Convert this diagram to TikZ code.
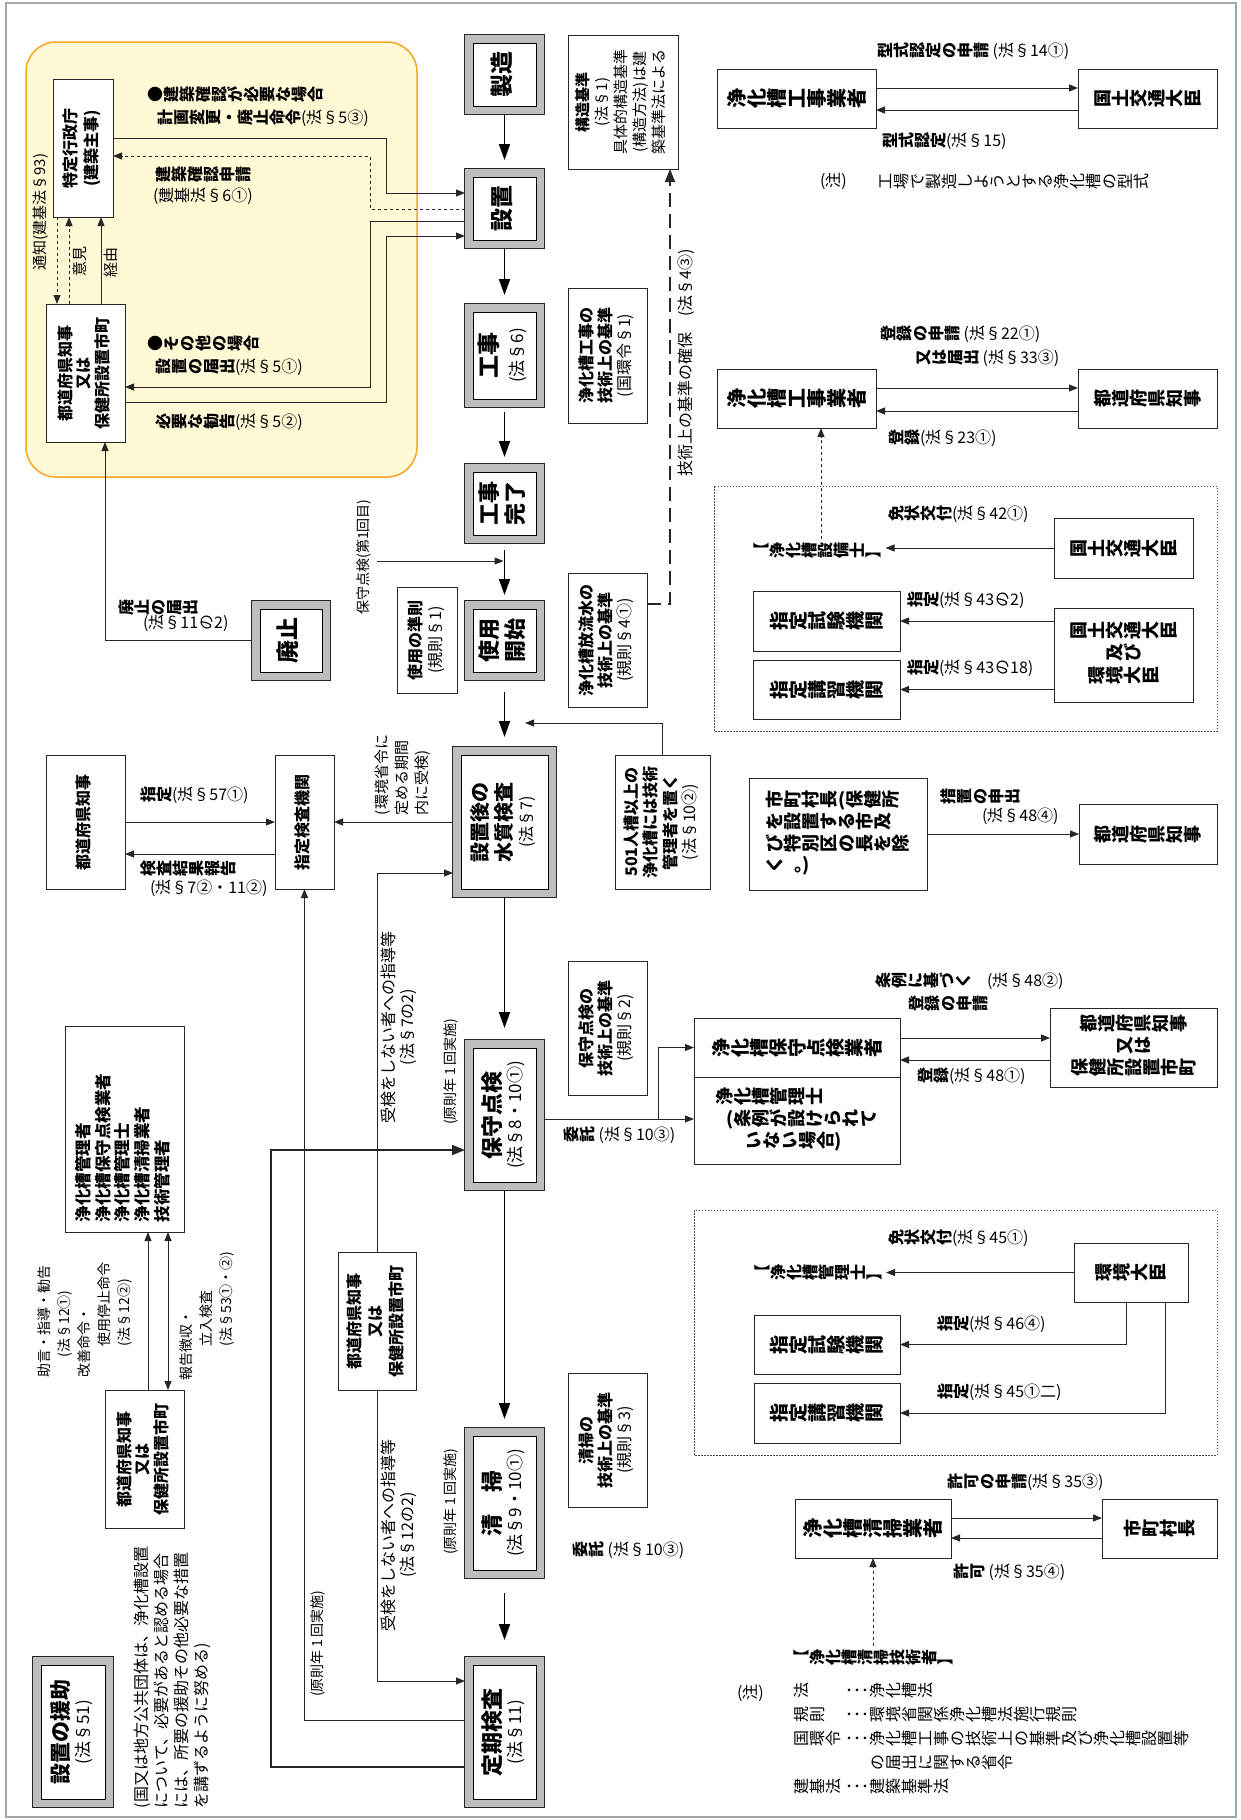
\documentclass[tikz,border=0pt]{standalone}
\usepackage{fontspec}
\usepackage{graphicx}
\usepackage{xcolor}
\setmainfont{Noto Sans CJK JP}
\usetikzlibrary{positioning,arrows.meta,calc}

\definecolor{orangeline}{HTML}{F5A623}
\definecolor{cream}{HTML}{FFF9D6}
\definecolor{stagegray}{HTML}{BEBEBE}

\makeatletter
% CJK glyphs turned a quarter left in a full square, the rest kept upright
\newcommand\tate[1]{\@tfor\tate@c:=#1\do{%
  \ifnum\expandafter`\tate@c>"2FFF\relax
    \rotatebox[origin=c]{90}{\makebox[1em]{\rule[-0.12em]{0pt}{1em}\tate@c}}%
  \else\tate@c\fi}}
\makeatother
\newcommand\yk[2][c]{\rotatebox{90}{\begin{tabular}{@{}#1@{}}#2\end{tabular}}}
\newcommand\tlines[2][c]{\begin{tabular}{@{}#1@{}}#2\end{tabular}}
\newcommand\fsz[2]{\fontsize{#1}{#2}\selectfont}
\newcommand\light[1]{{\mdseries #1}}

\begin{document}
\begin{tikzpicture}[
    x=1pt, y=-1pt,
    every node/.style={inner sep=0pt, outer sep=0pt},
    wh/.style 2 args={minimum width=#1pt, minimum height=#2pt},
    plainbox/.style={draw=black!85, line width=0.9pt, fill=white, font=\fsz{16}{19}\bfseries},
    stage/.style={draw=black, line width=0.9pt, fill=white,
        preaction={draw=black!85, line width=17.8pt},
        preaction={draw=stagegray, line width=16pt},
        font=\fsz{23}{26}\bfseries},
    lbl/.style={anchor=west, font=\fsz{16}{20}\bfseries},
    note/.style={font=\fsz{15}{19}\mdseries},
    link/.style={draw=black!85, line width=1pt},
    arr/.style={-{Triangle[length=9pt,width=7pt]}},
    flow/.style={draw=black, line width=1.8pt, -{Triangle[length=16pt,width=11pt]}},
    grp/.style={draw=black!70, line width=0.8pt, dash pattern=on 1.5pt off 1.5pt}
  ]
  \useasboundingbox (0,0) rectangle (1240,1820);
  \draw[gray!70, line width=1.2pt] (6,3) rectangle (1236,1817);
  \draw[orangeline, line width=1.5pt, fill=cream, rounded corners=30pt] (26,42) rectangle (417,477);
  \draw[grp] (714,486) rectangle (1217,731);
  \draw[grp] (694,1210) rectangle (1217,1455);

  % main stages
  \node[stage, wh={63}{63}] (seizo) at (504.5,74.5) {\yk{製造}};
  \node[stage, wh={63}{63}] (secchi) at (504.5,208.5) {\yk{設置}};
  \node[stage, wh={63}{87}] (koji) at (504.5,355.5) {\yk{工事\\\light{\fsz{17}{20}(法§6)}}};
  \node[stage, wh={63}{63}, font=\fsz{22}{24}\bfseries] (kanryo) at (504.5,503.5) {\yk{工事\\完了}};
  \node[stage, wh={63}{63}, font=\fsz{22}{24}\bfseries] (kaishi) at (504.5,640.5) {\yk{使用\\開始}};
  \node[stage, wh={87}{134}, font=\fsz{20}{21}\bfseries] (suishitsu) at (504.5,822) {\yk{設置後の\\水質検査\\\light{\fsz{16}{18}(法§7)}}};
  \node[stage, wh={63}{134}, font=\fsz{22}{21}\bfseries] (hoshu) at (504.5,1115) {\yk{保守点検\\\light{\fsz{17}{20}(法§8・10①)}}};
  \node[stage, wh={63}{134}, font=\fsz{22}{21}\bfseries] (seiso) at (504.5,1503) {\yk{清　掃\\\light{\fsz{17}{20}(法§9・10①)}}};
  \node[stage, wh={63}{134}, font=\fsz{22}{21}\bfseries] (teiki) at (504.5,1732) {\yk{定期検査\\\light{\fsz{17}{20}(法§11)}}};
  \node[stage, wh={62}{63}] (haishi) at (291,640.5) {\yk{廃止}};
  \node[stage, wh={64}{134}, font=\fsz{21}{20}\bfseries] (enjo) at (73,1732) {\yk{設置の援助\\\light{\fsz{17}{20}(法§51)}}};

  % boxes, left and middle
  \node[plainbox, wh={60}{138}, font=\fsz{16}{20}\bfseries] (tokutei) at (83,148) {\yk{特定行政庁\\(建築主事)}};
  \node[plainbox, wh={79}{138}, font=\fsz{16}{18}\bfseries] (todofuA) at (85.5,373) {\yk{都道府県知事\\又は\\保健所設置市町}};
  \node[plainbox, wh={110}{134}, font=\fsz{15}{19}\bfseries] (kouzou) at (623,102) {\yk{構造基準\\\light{(法§1)}\\\light{具体的構造基準}\\\light{(構造方法)は建}\\\light{築基準法による}}};
  \node[plainbox, wh={79}{135}] (kojikijun) at (607.5,355.5) {\yk{浄化槽工事の\\技術上の基準\\\light{(国環令§1)}}};
  \node[plainbox, wh={60}{106}, font=\fsz{16}{20}\bfseries] (shiyou) at (427,640) {\yk{使用の準則\\\light{(規則§1)}}};
  \node[plainbox, wh={79}{134}] (houryu) at (607.5,640) {\yk{浄化槽放流水の\\技術上の基準\\\light{(規則§4①)}}};
  \node[plainbox, wh={95}{134}] (kanrisha501) at (662.5,822) {\yk{501人槽以上の\\浄化槽には技術\\管理者を置く\\\light{(法§10②)}}};
  \node[plainbox, wh={59}{134}] (shiteikensa) at (304.5,822) {\yk{指定検査機関}};
  \node[plainbox, wh={79}{134}] (todofuL) at (85.5,822) {\yk{都道府県知事}};
  \node[plainbox, wh={78}{138}, font=\fsz{16}{21}\bfseries] (todofuM) at (377,1321) {\yk{都道府県知事\\又は\\保健所設置市町}};
  \node[plainbox, wh={79}{134}] (hoshukijun) at (607.5,1028) {\yk{保守点検の\\技術上の基準\\\light{(規則§2)}}};
  \node[plainbox, wh={79}{134}] (seisokijun) at (607.5,1440) {\yk{清掃の\\技術上の基準\\\light{(規則§3)}}};
  \node[plainbox, wh={119}{206}] (kanrilist) at (124.5,1129) {};
  \node[anchor=south, font=\fsz{16.5}{18}\bfseries] at ($(kanrilist.south)+(0,-10)$) {\yk[l]{浄化槽管理者\\浄化槽保守点検業者\\浄化槽管理士\\浄化槽清掃業者\\技術管理者}};
  \node[plainbox, wh={79}{138}, font=\fsz{16}{18}\bfseries] (todofuLB) at (144.5,1459) {\yk{都道府県知事\\又は\\保健所設置市町}};

  % boxes, right
  \node[plainbox, wh={159}{59}, font=\fsz{20}{22}\bfseries] (kojigyoA) at (796.5,98.5) {\tate{浄化槽工事業者}};
  \node[plainbox, wh={139}{59}, font=\fsz{18}{21}\bfseries] (kokudoA) at (1147.5,98.5) {\tate{国土交通大臣}};
  \node[plainbox, wh={159}{59}, font=\fsz{20}{22}\bfseries] (kojigyoB) at (796.5,398.5) {\tate{浄化槽工事業者}};
  \node[plainbox, wh={139}{59}, font=\fsz{18}{21}\bfseries] (todofuR1) at (1147.5,398.5) {\tate{都道府県知事}};
  \node[plainbox, wh={139}{60}, font=\fsz{18}{21}\bfseries] (kokudoB) at (1123.5,548) {\tate{国土交通大臣}};
  \node[plainbox, wh={147}{60}, font=\fsz{19}{21}\bfseries] (shikenA) at (826.5,621) {\tate{指定試験機関}};
  \node[plainbox, wh={147}{59}, font=\fsz{19}{21}\bfseries] (koshuA) at (826.5,689.5) {\tate{指定講習機関}};
  \node[plainbox, wh={139}{94}, font=\fsz{18}{21}\bfseries] (kokukan) at (1123.5,655) {\tlines{\tate{国土交通大臣}\\\tate{及び}\\\tate{環境大臣}}};
  \node[plainbox, wh={178}{112}, font=\fsz{18}{20}\bfseries] (shichoson) at (838,834) {\tlines[l]{\tate{市町村長(保健所}\\\tate{を設置する市及}\\\tate{び特別区の長を除}\\\tate{く。)}}};
  \node[plainbox, wh={138}{60}, font=\fsz{18}{21}\bfseries] (todofuR2) at (1148,834) {\tate{都道府県知事}};
  \node[plainbox, wh={206}{59}, font=\fsz{19}{22}\bfseries] (hoshugyo) at (797,1047.5) {\tate{浄化槽保守点検業者}};
  \node[plainbox, wh={206}{87}, font=\fsz{18}{21}\bfseries] (kanrishi) at (797,1120.5) {\tlines[l]{\tate{浄化槽管理士}\\\hspace{0.6em}\tate{(条例が設けられて}\\\hspace{1.6em}\tate{いない場合)}}};
  \node[plainbox, wh={167}{79}, font=\fsz{18}{21}\bfseries] (todofuR3) at (1133.5,1047.5) {\tlines{\tate{都道府県知事}\\\tate{又は}\\\tate{保健所設置市町}}};
  \node[plainbox, wh={114}{59}, font=\fsz{18}{21}\bfseries] (kankyoA) at (1131,1272.5) {\tate{環境大臣}};
  \node[plainbox, wh={146}{59}, font=\fsz{19}{21}\bfseries] (shikenB) at (827,1344.5) {\tate{指定試験機関}};
  \node[plainbox, wh={146}{60}, font=\fsz{19}{21}\bfseries] (koshuB) at (827,1413) {\tate{指定講習機関}};
  \node[plainbox, wh={156}{59}, font=\fsz{20}{22}\bfseries] (seisogyo) at (873,1528.5) {\tate{浄化槽清掃業者}};
  \node[plainbox, wh={115}{59}, font=\fsz{18}{21}\bfseries] (shichosonB) at (1159.5,1528.5) {\tate{市町村長}};

  % labels read across the page
  \node[lbl] at (147,94) {\tate{●建築確認が必要な場合}};
  \node[lbl] at (157,118) {\tate{計画変更・廃止命令}\light{\tate{(法§5③)}}};
  \node[lbl] at (155,174) {\tate{建築確認申請}};
  \node[lbl] at (153,196) {\light{\tate{(建基法§6①)}}};
  \node[lbl] at (147,343) {\tate{●その他の場合}};
  \node[lbl] at (155,367) {\tate{設置の届出}\light{\tate{(法§5①)}}};
  \node[lbl] at (155,422) {\tate{必要な勧告}\light{\tate{(法§5②)}}};
  \node[lbl] at (118,607) {\tate{廃止の届出}};
  \node[lbl] at (143,623) {\light{\tate{(法§11の2)}}};
  \node[lbl] at (140,795) {\tate{指定}\light{\tate{(法§57①)}}};
  \node[lbl] at (140,868) {\tate{検査結果報告}};
  \node[lbl] at (150,888) {\light{\tate{(法§7②・11②)}}};
  \node[lbl] at (877,51) {\tate{型式認定の申請}\ \light{\tate{(法§14①)}}};
  \node[lbl] at (882,141) {\tate{型式認定}\light{\tate{(法§15)}}};
  \node[lbl] at (820,181) {\light{\tate{(注)}}};
  \node[lbl] at (877,181) {\light{\tate{工場で製造しようとする浄化槽の型式}}};
  \node[lbl] at (880,334) {\tate{登録の申請}\ \light{\tate{(法§22①)}}};
  \node[lbl] at (915,358) {\tate{又は届出}\ \light{\tate{(法§33③)}}};
  \node[lbl] at (888,438) {\tate{登録}\light{\tate{(法§23①)}}};
  \node[lbl, anchor=center] (setsubishi) at (817.5,550) {\tate{【浄化槽設備士】}};
  \node[lbl] at (888,514) {\tate{免状交付}\light{\tate{(法§42①)}}};
  \node[lbl] at (907,600) {\tate{指定}\light{\tate{(法§43の2)}}};
  \node[lbl] at (907,668) {\tate{指定}\light{\tate{(法§43の18)}}};
  \node[lbl] at (940,796) {\tate{措置の申出}};
  \node[lbl] at (982,816) {\light{\tate{(法§48④)}}};
  \node[lbl] at (563,1135) {\tate{委託}\ \light{\tate{(法§10③)}}};
  \node[lbl] at (875,981) {\tate{条例に基づく}\quad\light{\tate{(法§48②)}}};
  \node[lbl] at (908,1003) {\tate{登録の申請}};
  \node[lbl] at (917,1076) {\tate{登録}\light{\tate{(法§48①)}}};
  \node[lbl, anchor=center] (kanrishiL) at (818,1272) {\tate{【浄化槽管理士】}};
  \node[lbl] at (888,1238) {\tate{免状交付}\light{\tate{(法§45①)}}};
  \node[lbl] at (937,1324) {\tate{指定}\light{\tate{(法§46④)}}};
  \node[lbl] at (937,1392) {\tate{指定}\light{\tate{(法§45①}二)}};
  \node[lbl] at (947,1482) {\tate{許可の申請}\light{\tate{(法§35③)}}};
  \node[lbl] at (953,1572) {\tate{許可}\ \light{\tate{(法§35④)}}};
  \node[lbl, anchor=center] (seisogijutsu) at (873,1657) {\tate{【浄化槽清掃技術者】}};
  \node[lbl] at (572,1550) {\tate{委託}\ \light{\tate{(法§10③)}}};
  \node[lbl] at (737,1693) {\light{\tate{(注)}}};
  \node[anchor=north west, font=\fsz{16}{24}\mdseries] (legend) at (793,1680) {%
    \begin{tabular}{@{}l@{\hspace{4pt}}l@{}l@{}}
      \tate{法} & ･･･ & \tate{浄化槽法}\\
      \tate{規則} & ･･･ & \tate{環境省関係浄化槽法施行規則}\\
      \tate{国環令} & ･･･ & \tate{浄化槽工事の技術上の基準及び浄化槽設置等}\\
       & & \tate{の届出に関する省令}\\
      \tate{建基法} & ･･･ & \tate{建築基準法}
    \end{tabular}};

  % labels read up the page
  \node[note] at (42,212) {\yk{通知(建基法§93)}};
  \node[note] at (82,261) {\yk{意見}};
  \node[note] at (113,262) {\yk{経由}};
  \node[note, font=\fsz{14}{18}\mdseries] at (365,557) {\yk{保守点検(第1回目)}};
  \node[note, font=\fsz{16}{19}\mdseries] at (688,363) {\yk{技術上の基準の確保\quad(法§4③)}};
  \node[note, anchor=south, font=\fsz{15}{20}\mdseries] at (403,815) {\yk[l]{(環境省令に\\定める期間\\内に受検)}};
  \node[note, font=\fsz{16}{18}\mdseries] at (400,1027) {\yk{受検をしない者への指導等\\(法§7の2)}};
  \node[note, font=\fsz{14}{18}\mdseries] at (452,1072) {\yk{(原則年\,1\,回実施)}};
  \node[note, font=\fsz{14}{18}\mdseries] at (452,1502) {\yk{(原則年\,1\,回実施)}};
  \node[note, font=\fsz{14}{18}\mdseries] at (319,1644) {\yk{(原則年\,1\,回実施)}};
  \node[note, font=\fsz{16}{18}\mdseries] at (400,1535) {\yk{受検をしない者への指導等\\(法§12の2)}};
  \node[note, anchor=south, font=\fsz{14}{20}\mdseries] at (85,1377) {\yk[l]{助言・指導・勧告\\\hspace{1.4em}(法§12①)\\改善命令・\\\hspace{2.2em}使用停止命令\\\hspace{2.2em}(法§12②)}};
  \node[note, anchor=south, font=\fsz{14}{20}\mdseries] at (207,1380) {\yk[l]{報告徴収・\\\hspace{2.4em}立入検査\\\hspace{2.4em}(法§53①・②)}};
  \node[note, anchor=south, font=\fsz{16}{20}\mdseries] at (173,1808) {\yk[l]{(国又は地方公共団体は、浄化槽設置\\について、必要があると認める場合\\には、所要の援助その他必要な措置\\を講ずるように努める)}};

  % main flow
  \draw[flow, shorten <=8pt, shorten >=17pt] (seizo) -- (secchi);
  \draw[flow, shorten <=8pt, shorten >=17pt] (secchi) -- (koji);
  \draw[flow, shorten <=13pt, shorten >=15pt] (koji) -- (kanryo);
  \draw[flow, shorten <=15pt, shorten >=14pt] (kanryo) -- (kaishi);
  \draw[flow, shorten <=20pt, shorten >=18pt] (kaishi) -- (suishitsu);
  \draw[flow, shorten <=8pt, shorten >=20pt] (suishitsu) -- (hoshu);
  \draw[flow, shorten <=8pt, shorten >=17pt] (hoshu) -- (seiso);
  \draw[flow, shorten <=23pt, shorten >=25pt] (seiso) -- (teiki);

  % yellow area
  \draw[link, arr, shorten >=8pt] ($(tokutei.east)+(0,-10)$) -| (386,193) -- ($(secchi.west)+(0,-15.5)$);
  \draw[link, arr, dashed] ($(secchi.west)+(-8,0.5)$) -| (370,156) -- ($(tokutei.east)+(0,8)$);
  \draw[link, arr] ($(secchi.west)+(-8,12.5)$) -| (370,387) -- ($(todofuA.east)+(0,14)$);
  \draw[link, arr, shorten >=8pt] ($(todofuA.east)+(0,29)$) -| (386,236) -- ($(secchi.west)+(0,27.5)$);
  \draw[link, arr, dashed] ($(tokutei.south)+(-26,0)$) -- ($(todofuA.north)+(-28.5,0)$);
  \draw[link, arr, dashed] ($(todofuA.north)+(-16.5,0)$) -- ($(tokutei.south)+(-14,0)$);
  \draw[link, arr] ($(todofuA.north)+(15.5,0)$) -- ($(tokutei.south)+(18,0)$);
  \draw[link, arr] ($(haishi.west)+(-8,0)$) -| ($(todofuA.south)+(19.5,0)$);

  % into the flow
  \coordinate (k1) at (377,561);
  \draw[link, arr, shorten >=1pt] (k1) -- (k1 -| kanryo.south);
  \draw[link, line width=1.8pt, dash pattern=on 14pt off 7pt, -{Triangle[length=13pt,width=10pt]}]
    ($(houryu.east)+(0,-36)$) -| ($(kouzou.south)+(47,0)$);
  \coordinate (k2) at (525,723);
  \draw[link, arr] ($(kanrisha501.north)+(-0.5,0)$) |- (k2);

  % inspection
  \draw[link, arr] ($(suishitsu.west)+(-8,0)$) -- (shiteikensa.east);
  \draw[link, arr] (todofuL.east) -- (shiteikensa.west);
  \draw[link, arr] ($(shiteikensa.west)+(0,32)$) -- ($(todofuL.east)+(0,32)$);
  \draw[link, arr] (todofuM.north) |- ($(suishitsu.west)+(-8,51)$);
  \draw[link, arr] (todofuM.south) |- ($(teiki.west)+(-8,-51)$);
  \draw[link, arr] ($(teiki.west)+(-8,-12)$) -| (shiteikensa.south);
  \draw[link, line width=1.8pt, -{Triangle[length=13pt,width=10pt]}] ($(teiki.west)+(-8,35)$) -| (271,1150) -- ($(hoshu.west)+(-8,35)$);
  \draw[link, arr] ($(todofuLB.north)+(3.5,0)$) -- ($(kanrilist.south)+(23.5,0)$);
  \draw[link, {Triangle[length=9pt,width=7pt]}-{Triangle[length=9pt,width=7pt]}] ($(todofuLB.north)+(23.5,0)$) -- ($(kanrilist.south)+(43.5,0)$);

  % maintenance
  \coordinate (itaku) at (658,1119);
  \draw[link, arr] ($(hoshu.east)+(8,4)$) -- ($(kanrishi.west)+(0,-1.5)$);
  \draw[link, arr] (itaku) |- (hoshugyo.west);
  \draw[link, arr] ($(hoshugyo.east)+(0,-9.5)$) -- ($(todofuR3.west)+(0,-9.5)$);
  \draw[link, arr] ($(todofuR3.west)+(0,12.5)$) -- ($(hoshugyo.east)+(0,12.5)$);

  % right side
  \draw[link, arr] ($(kojigyoA.east)+(0,-10.5)$) -- ($(kokudoA.west)+(0,-10.5)$);
  \draw[link, arr] ($(kokudoA.west)+(0,11.5)$) -- ($(kojigyoA.east)+(0,11.5)$);
  \draw[link, arr] ($(kojigyoB.east)+(0,-10.5)$) -- ($(todofuR1.west)+(0,-10.5)$);
  \draw[link, arr] ($(todofuR1.west)+(0,12.5)$) -- ($(kojigyoB.east)+(0,12.5)$);
  \draw[link, arr, dashed, shorten <=3pt] ($(setsubishi.north)+(3.5,0)$) -- ($(kojigyoB.south)+(24.5,0)$);
  \draw[link, arr, shorten >=4pt] (kokudoB.west) -- (kokudoB.west -| setsubishi.east);
  \draw[link, arr] (kokukan.west |- shikenA.east) -- (shikenA.east);
  \draw[link, arr] (kokukan.west |- koshuA.east) -- (koshuA.east);
  \draw[link, arr] (shichoson.east |- todofuR2.west) -- (todofuR2.west);
  \draw[link, arr, shorten >=4pt] (kankyoA.west) -- (kankyoA.west -| kanrishiL.east);
  \draw[link, arr] ($(kankyoA.south)+(-5,0)$) |- (shikenB.east);
  \draw[link, arr] ($(kankyoA.south)+(34,0)$) |- (koshuB.east);
  \draw[link, arr] ($(seisogyo.east)+(0,-10.5)$) -- ($(shichosonB.west)+(0,-10.5)$);
  \draw[link, arr] ($(shichosonB.west)+(0,9.5)$) -- ($(seisogyo.east)+(0,9.5)$);
  \draw[link, arr, dashed, shorten <=3pt] (seisogijutsu.north) -- (seisogijutsu.north |- seisogyo.south);
\end{tikzpicture}
\end{document}
